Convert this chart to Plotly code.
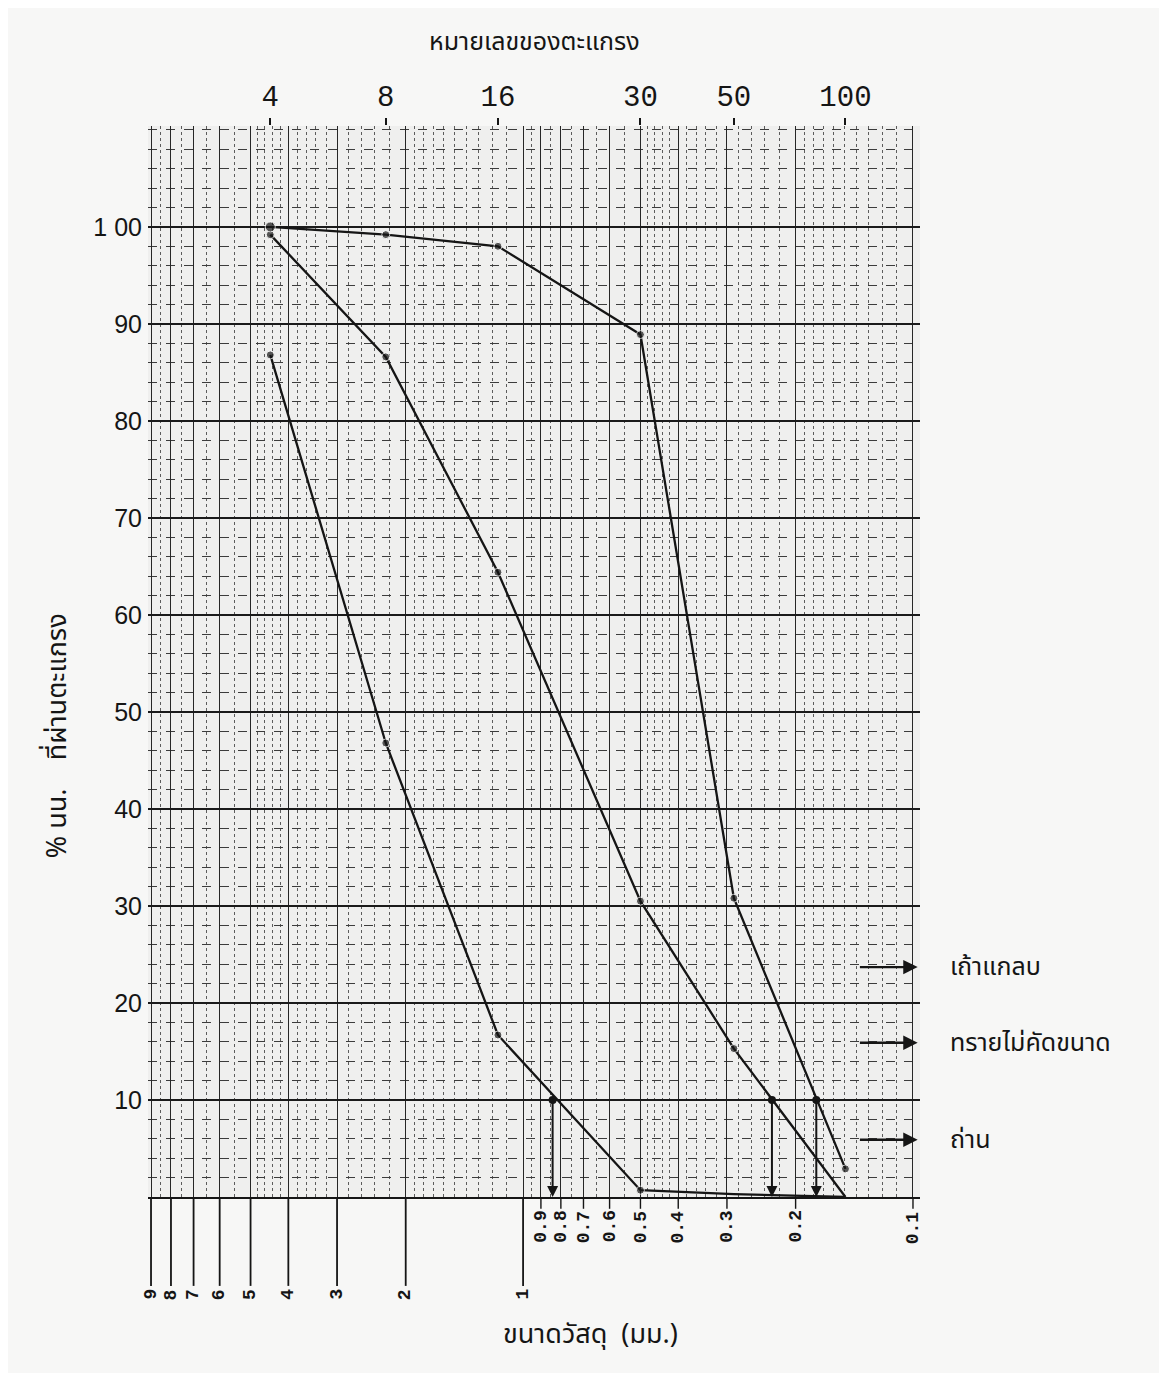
import math
import plotly.graph_objects as go

# ---------------- data ----------------
sieve_no = [4, 8, 16, 30, 50, 100]
sieve_size_mm = [4.45, 2.25, 1.16, 0.50, 0.288, 0.149]   # position of each sieve on the mm scale

pass_left = [86.8, 46.8, 16.7, 0.7, 0.3, 0.0]     # coarsest curve
pass_middle = [99.2, 86.6, 64.4, 30.5, 15.3, 0.0]
pass_right = [100.0, 99.2, 98.0, 88.9, 30.8, 2.9]  # finest curve

d10_mm = [0.84, 0.23, 0.177]
d10_pct = [10, 10, 10]

mm_upper = [9, 8, 7, 6, 5, 4, 3, 2, 1]
mm_lower = [0.9, 0.8, 0.7, 0.6, 0.5, 0.4, 0.3, 0.2, 0.1]

y_ticks = [10, 20, 30, 40, 50, 60, 70, 80, 90, 100]
y_tick_text = ["10", "20", "30", "40", "50", "60", "70", "80", "90", "1 00"]

label_names = ["เถ้าแกลบ", "ทรายไม่คัดขนาด", "ถ่าน"]
label_levels = [23.7, 15.9, 5.9]

# ---------------- styling ----------------
THAI = "Noto Sans Thai, Noto Sans Thai UI, Noto Sans, Loma, Garuda, sans-serif"
NUM = "Liberation Sans, Arial, sans-serif"
MONO = "Liberation Mono, DejaVu Sans Mono, monospace"
INK = "#151515"

X_RANGE = [0.962, -1.018]      # log10(mm), reversed (coarse on left)
Y_RANGE = [0, 110.4]

# log-paper grid values
major_grid = [d * 10 ** k for k in (-1, 0) for d in range(1, 10)]
minor_grid = []
for k in (-1, 0):
    base = 10 ** k
    for a, b, step in ((1, 2, 0.1), (2, 5, 0.2), (5, 10, 0.5)):
        n = int(round((b - a) / step))
        for i in range(1, n):
            minor_grid.append(round((a + i * step) * base, 5))

fig = go.Figure()

for vals, sizes in ((pass_left, [8, 8, 8, 8, 0, 0]),
                    (pass_middle, [8, 8, 8, 8, 8, 0]),
                    (pass_right, [10, 8, 8, 8, 8, 8])):
    fig.add_trace(go.Scatter(
        x=sieve_size_mm, y=vals, mode="lines+markers",
        line=dict(color=INK, width=2.3),
        marker=dict(color=INK, size=sizes),
        showlegend=False, hoverinfo="x+y"))

# D10 points
fig.add_trace(go.Scatter(x=d10_mm, y=d10_pct, mode="markers",
                         marker=dict(color=INK, size=8), showlegend=False))

# invisible trace to carry the top (sieve number) axis
fig.add_trace(go.Scatter(x=sieve_size_mm, y=pass_middle, xaxis="x2",
                         mode="markers", marker=dict(opacity=0),
                         showlegend=False, hoverinfo="skip"))

annotations = []
shapes = []

# D10 arrows down to the size axis
for d, p in zip(d10_mm, d10_pct):
    annotations.append(dict(
        x=math.log10(d), y=0, ax=math.log10(d), ay=p,
        xref="x", yref="y", axref="x", ayref="y",
        text="", showarrow=True, arrowhead=2, arrowsize=1.1,
        arrowwidth=2, arrowcolor=INK))

# right-hand labels with arrows
for name, lev in zip(label_names, label_levels):
    annotations.append(dict(
        x=-1.012, y=lev, ax=-0.86, ay=lev,
        xref="x", yref="y", axref="x", ayref="y",
        text="", showarrow=True, arrowhead=2, arrowsize=1.2,
        arrowwidth=2.4, arrowcolor=INK))
    annotations.append(dict(
        x=1.036, y=lev, xref="paper", yref="y", xanchor="left",
        yanchor="middle", text=name, showarrow=False,
        font=dict(family=THAI, size=25, color=INK)))

# bottom mm scale (rotated labels, with guide lines)
for v in mm_upper:
    shapes.append(dict(type="line", xref="x", yref="paper",
                       x0=v, x1=v, y0=0, y1=-0.083,
                       line=dict(color=INK, width=1.8)))
    annotations.append(dict(x=math.log10(v), y=-0.084, xref="x", yref="paper",
                            text=f"<b>{v}</b>", showarrow=False, textangle=-90,
                            xanchor="center", yanchor="top",
                            font=dict(family=MONO, size=18, color=INK)))
for v in mm_lower:
    shapes.append(dict(type="line", xref="x", yref="paper",
                       x0=v, x1=v, y0=0, y1=-0.011,
                       line=dict(color=INK, width=1.4)))
    annotations.append(dict(x=math.log10(v), y=-0.011, xref="x", yref="paper",
                            text=f"<b>{v:.1f}</b>", showarrow=False, textangle=-90,
                            xanchor="center", yanchor="top",
                            font=dict(family=MONO, size=18, color=INK)))

# titles
annotations.append(dict(x=0.501, y=1.098, xref="paper", yref="paper",
                        text="หมายเลขของตะแกรง", showarrow=False,
                        font=dict(family=THAI, size=25, color=INK)))
annotations.append(dict(x=0.573, y=-0.149, xref="paper", yref="paper",
                        text="ขนาดวัสดุ  (มม.)", showarrow=False,
                        font=dict(family=THAI, size=27, color=INK)))
annotations.append(dict(x=-0.146, y=0.431, xref="paper", yref="paper",
                        text="% นน.    ที่ผ่านตะแกรง", showarrow=False,
                        textangle=-90,
                        font=dict(family=THAI, size=27, color=INK)))

fig.update_layout(
    width=1167, height=1373,
    margin=dict(l=140, r=255, t=118, b=184),
    paper_bgcolor="#f7f7f6", plot_bgcolor="#efefee",
    showlegend=False,
    xaxis=dict(type="log", range=X_RANGE, tickmode="array",
               tickvals=major_grid, showticklabels=False, ticks="",
               showgrid=True, gridcolor="#262626", gridwidth=1.4,
               minor=dict(tickmode="array", tickvals=minor_grid,
                          showgrid=True, gridcolor="#5c5c5c",
                          gridwidth=1, griddash="dot"),
               showline=True, linecolor=INK, linewidth=2.4,
               zeroline=False),
    xaxis2=dict(type="log", range=X_RANGE, overlaying="x", side="top",
                tickmode="array", tickvals=sieve_size_mm,
                ticktext=[str(s) for s in sieve_no],
                ticks="outside", ticklen=7, tickwidth=2, tickcolor=INK,
                showgrid=False, showline=False, zeroline=False,
                tickfont=dict(family=MONO, size=29, color=INK)),
    yaxis=dict(range=Y_RANGE, tickmode="array", tickvals=y_ticks,
               ticktext=y_tick_text, ticklabelstandoff=5,
               showgrid=True, gridcolor="#1a1a1a", gridwidth=2,
               minor=dict(dtick=2, showgrid=True, gridcolor="#3c3c3c",
                          gridwidth=1.3, griddash="dash"),
               ticks="", zeroline=False, showline=False,
               tickfont=dict(family=NUM, size=25, color=INK)),
    annotations=annotations,
    shapes=shapes,
)

fig.write_html("out.html")
